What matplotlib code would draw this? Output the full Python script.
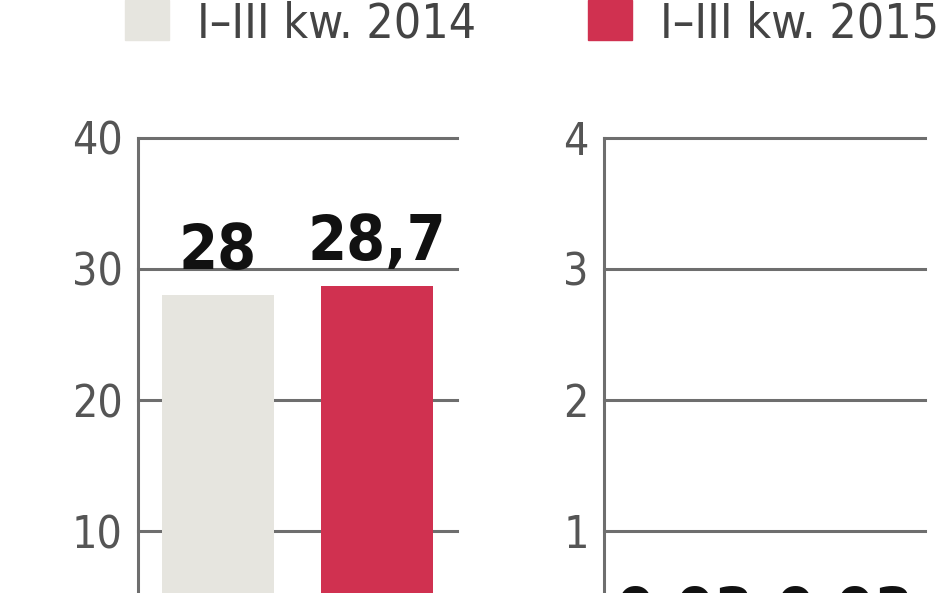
import matplotlib.pyplot as plt
from matplotlib.patches import Rectangle

# data
series = ['I–III kw. 2014', 'I–III kw. 2015']
left_vals = [28, 28.7]
left_labels = ['28', '28,7']
right_vals = [0.03, 0.03]
right_labels = ['0,03', '0,03']
left_ticks = [0, 10, 20, 30, 40]
right_ticks = [0, 1, 2, 3, 4]

colors = ['#e6e5df', '#d03150']
grid_col = '#6e6e6e'
fnt = dict(family='DejaVu Sans', fontstretch='condensed')

fig = plt.figure(figsize=(9.48, 5.93), dpi=100)
fig.patch.set_facecolor('white')

# the axes run below the bottom of the picture (it is cropped)
ax1 = fig.add_axes([0.1456, -0.1164, 0.3365, 0.8837])
ax2 = fig.add_axes([0.6371, -0.1164, 0.3386, 0.8837])


def panel(ax, vals, labels, ticks):
    x = range(len(vals))
    ax.bar(x, vals, width=0.7, color=colors, zorder=3)
    ax.set_xlim(-0.5, 1.5)
    ax.set_ylim(ticks[0], ticks[-1])
    ax.set_yticks(ticks)
    ax.set_yticklabels([str(t) for t in ticks], fontsize=32,
                       color='#555555', **fnt)
    ax.tick_params(axis='y', length=0, pad=11)
    ax.set_xticks([])
    for s in ['top', 'right', 'bottom']:
        ax.spines[s].set_visible(False)
    ax.spines['left'].set_color(grid_col)
    ax.spines['left'].set_linewidth(2.2)
    ax.yaxis.grid(True, color=grid_col, linewidth=2.2, zorder=1)
    ax.set_axisbelow(True)
    for gl in ax.get_ygridlines():
        gl.set_clip_on(False)
    for xi, v, lab in zip(x, vals, labels):
        ax.annotate(lab, (xi, v), xytext=(0, 19), textcoords='offset points',
                    ha='center', va='baseline', fontweight='bold',
                    fontsize=45, color='#111111', **fnt)


panel(ax1, left_vals, left_labels, left_ticks)
panel(ax2, right_vals, right_labels, right_ticks)

# legend at the top
leg_x = [125, 588]
for lx, c, name in zip(leg_x, colors, series):
    fig.patches.append(Rectangle((lx / 948, 1 - 40 / 593), 44 / 948, 40 / 593,
                                 transform=fig.transFigure, color=c))
    fig.text((lx + 72) / 948, 1 - 37 / 593, name, fontsize=34.5,
             color='#444444', va='baseline', ha='left', **fnt)

fig.savefig('out.png', dpi=100)
